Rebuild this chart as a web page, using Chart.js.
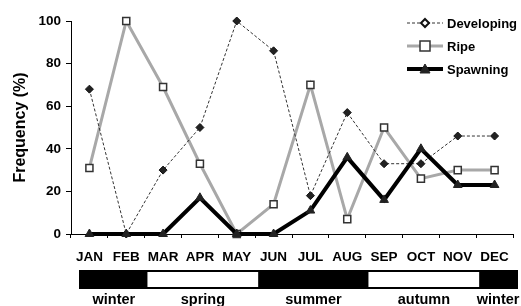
<!DOCTYPE html>
<html>
<head>
<meta charset="utf-8">
<script src="https://cdn.jsdelivr.net/npm/chart.js@4/dist/chart.umd.min.js"></script>
<style>
  html, body { margin: 0; padding: 0; background: #fff; }
  #wrap { width: 521px; height: 306px; position: relative; }
</style>
</head>
<body>
<div id="wrap"><canvas id="freqChart"></canvas></div>
<script>
// months on the x axis
const months = ['JAN', 'FEB', 'MAR', 'APR', 'MAY', 'JUN', 'JUL', 'AUG', 'SEP', 'OCT', 'NOV', 'DEC'];

// frequency (%) per month
const developing = [68, 0, 30, 50, 100, 86, 18, 57, 33, 33, 46, 46];
const ripe = [31, 100, 69, 33, 0, 14, 70, 7, 50, 26, 30, 30];
const spawning = [0, 0, 0, 17, 0, 0, 11, 36, 16, 40, 23, 23];

// y axis ticks
const yTicks = [0, 20, 40, 60, 80, 100];

// season strip under the axis (first month index, last month index)
const seasonNames = ['winter', 'spring', 'summer', 'autumn', 'winter'];
const seasonFrom = [0, 2, 5, 8, 11];
const seasonTo = [1, 4, 7, 10, 11];
const seasonDark = [true, false, true, false, true];

function drawMarker(ctx, style, x, y, r, fill, stroke, lw) {
    ctx.save();
    ctx.beginPath();
    if (style === 'rectRot') {
        ctx.moveTo(x, y - r); ctx.lineTo(x + r, y); ctx.lineTo(x, y + r); ctx.lineTo(x - r, y);
    } else if (style === 'rect') {
        ctx.rect(x - r, y - r, 2 * r, 2 * r);
    } else {
        ctx.moveTo(x, y - r); ctx.lineTo(x + r, y + r * 0.8); ctx.lineTo(x - r, y + r * 0.8);
    }
    ctx.closePath();
    ctx.setLineDash([]);
    ctx.fillStyle = fill;
    ctx.fill();
    ctx.lineWidth = lw;
    ctx.strokeStyle = stroke;
    ctx.stroke();
    ctx.restore();
}

// legend drawn by hand so the line sample runs through the marker
const legendPlugin = {
    id: 'lineLegend',
    afterDraw(chart) {
        const ctx = chart.ctx;
        const rows = [23, 46, 69];
        chart.data.datasets.forEach((ds, i) => {
            const y = rows[i];
            ctx.save();
            ctx.beginPath();
            ctx.setLineDash(ds.borderDash || []);
            ctx.lineWidth = ds.borderWidth;
            ctx.strokeStyle = ds.borderColor;
            ctx.moveTo(407, y);
            ctx.lineTo(443, y);
            ctx.stroke();
            ctx.restore();
            const fill = i === 0 ? '#fff' : ds.pointBackgroundColor;
            drawMarker(ctx, ds.pointStyle, 425, y, ds.pointRadius, fill, ds.pointBorderColor, ds.pointBorderWidth + (i === 0 ? 1 : 0));
            ctx.save();
            ctx.fillStyle = '#000';
            ctx.font = 'bold 13px "Liberation Sans", Arial, sans-serif';
            ctx.textBaseline = 'middle';
            ctx.textAlign = 'left';
            ctx.fillText(ds.label, 447, y + 1);
            ctx.restore();
        });
    }
};

// black / white season strip with names underneath
const seasonPlugin = {
    id: 'seasons',
    afterDraw(chart) {
        const ctx = chart.ctx;
        const xs = chart.scales.x;
        const half = (xs.getPixelForValue(1) - xs.getPixelForValue(0)) / 2;
        const top = chart.chartArea.bottom + 37;
        const h = 17;
        ctx.save();
        seasonNames.forEach((name, i) => {
            let x0 = xs.getPixelForValue(seasonFrom[i]) - half + 3;
            let x1 = xs.getPixelForValue(seasonTo[i]) + half + 3;
            if (i === 0) x0 += 6;
            if (i === seasonNames.length - 1) x1 += 1;
            ctx.fillStyle = seasonDark[i] ? '#000' : '#fff';
            ctx.fillRect(x0, top, x1 - x0, h);
            ctx.fillStyle = '#000';
            ctx.font = 'bold 14.5px "Liberation Sans", Arial, sans-serif';
            ctx.textAlign = 'center';
            ctx.textBaseline = 'alphabetic';
            ctx.fillText(name, (x0 + x1) / 2, top + h + 16);
        });
        const left = xs.getPixelForValue(0) - half + 9;
        const right = xs.getPixelForValue(months.length - 1) + half + 4;
        ctx.lineWidth = 2;
        ctx.strokeStyle = '#000';
        ctx.strokeRect(left, top, right - left, h);
        ctx.restore();
    }
};

const ctx = document.getElementById('freqChart').getContext('2d');
const freqChart = new Chart(ctx, {
    type: 'line',
    data: {
        labels: months,
        datasets: [{
            label: 'Developing',
            data: developing,
            borderColor: '#333',
            borderWidth: 1,
            borderDash: [3, 2],
            pointStyle: 'rectRot',
            pointRadius: 4,
            pointBackgroundColor: '#222',
            pointBorderColor: '#111',
            pointBorderWidth: 1,
            order: 1,
            fill: false
        },
        {
            label: 'Ripe',
            data: ripe,
            borderColor: '#a8a8a8',
            borderWidth: 3,
            pointStyle: 'rect',
            pointRadius: 5,
            pointBackgroundColor: '#fff',
            pointBorderColor: '#333',
            pointBorderWidth: 1.5,
            order: 2,
            fill: false
        },
        {
            label: 'Spawning',
            data: spawning,
            borderColor: '#000',
            borderWidth: 4,
            pointStyle: 'triangle',
            pointRadius: 5,
            pointBackgroundColor: '#222',
            pointBorderColor: '#222',
            pointBorderWidth: 1,
            order: 0,
            fill: false
        }]
    },
    options: {
        responsive: true,
        maintainAspectRatio: false,
        animation: false,
        clip: false,
        layout: { padding: { left: 0, right: 8, top: 21, bottom: 0 } },
        plugins: {
            legend: { display: false },
            tooltip: { enabled: false }
        },
        scales: {
            x: {
                offset: true,
                grid: { offset: true, drawOnChartArea: false, tickLength: 4, color: '#000' },
                border: { color: '#000', width: 1 },
                ticks: {
                    color: '#000',
                    padding: 11,
                    autoSkip: false,
                    maxRotation: 0,
                    font: { family: '"Liberation Sans", Arial, sans-serif', size: 13.5, weight: 'bold' }
                },
                afterFit(scale) { scale.height = 72; }
            },
            y: {
                min: 0,
                max: 100,
                afterBuildTicks(scale) { scale.ticks = yTicks.map(v => ({ value: v })); },
                grid: { drawOnChartArea: false, tickLength: 5, color: '#000' },
                border: { color: '#000', width: 1 },
                ticks: {
                    color: '#000',
                    padding: 5,
                    font: { family: '"Liberation Sans", Arial, sans-serif', size: 13.5, weight: 'bold' }
                },
                title: {
                    display: true,
                    text: 'Frequency (%)',
                    color: '#000',
                    padding: { top: 11, bottom: 0 },
                    font: { family: '"Liberation Sans", Arial, sans-serif', size: 16, weight: 'bold' }
                },
                afterFit(scale) { scale.width = 71; }
            }
        }
    },
    plugins: [seasonPlugin, legendPlugin]
});
</script>
</body>
</html>
